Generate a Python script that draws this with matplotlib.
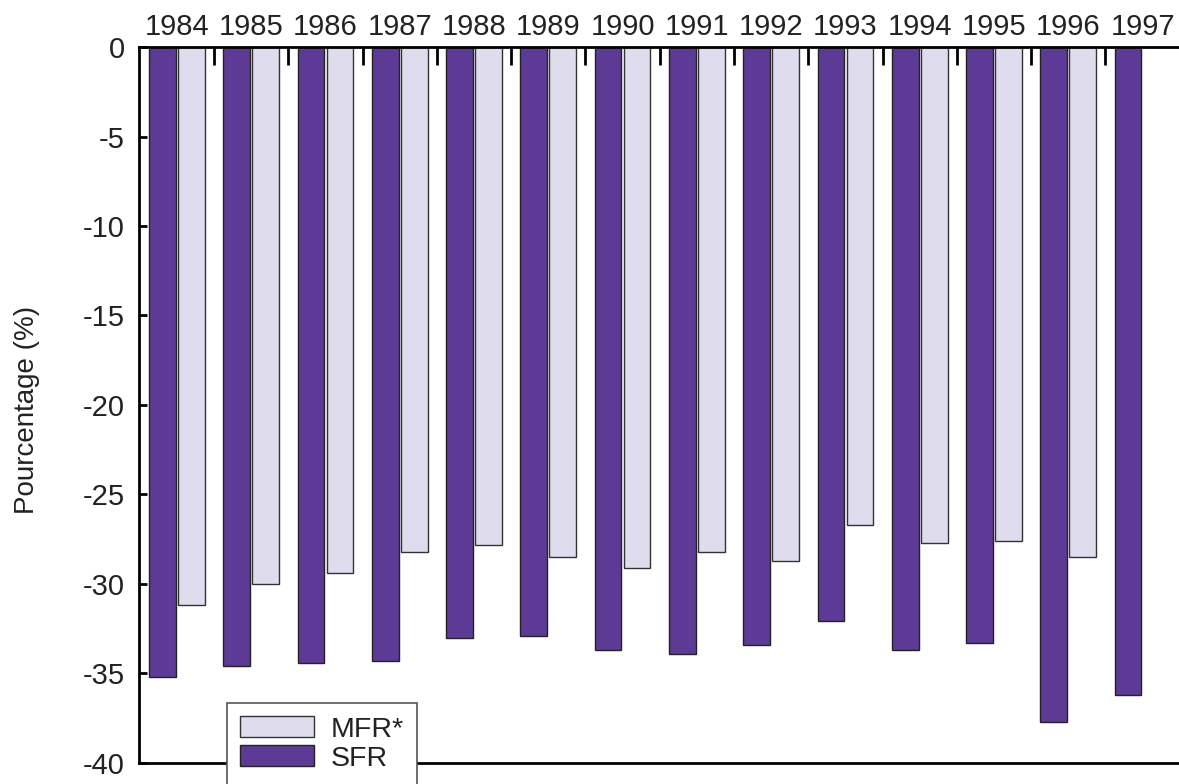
import numpy as np
import matplotlib
matplotlib.use("Agg")
import matplotlib.pyplot as plt

years = ["1984", "1985", "1986", "1987", "1988", "1989", "1990",
         "1991", "1992", "1993", "1994", "1995", "1996", "1997"]
sfr = [-35.2, -34.6, -34.4, -34.3, -33.0, -32.9, -33.7,
       -33.9, -33.4, -32.1, -33.7, -33.3, -37.7, -36.2]
mfr = [-31.2, -30.0, -29.4, -28.2, -27.8, -28.5, -29.1,
       -28.2, -28.7, -26.7, -27.7, -27.6, -28.5]
yticks = [0, -5, -10, -15, -20, -25, -30, -35, -40]

plt.rcParams["font.family"] = ["Liberation Sans", "DejaVu Sans"]
plt.rcParams["axes.unicode_minus"] = False

sfr_color = "#5c3a96"
mfr_color = "#dfdcee"

fig = plt.figure(figsize=(11.79, 7.84), dpi=100)
ax = fig.add_axes([0.1179, 0.027, 0.8821, 0.913])

x = np.arange(len(years))
w = 0.36
ax.bar(x[:len(mfr)] + 0.195, mfr, width=w, color=mfr_color,
       edgecolor="#333333", linewidth=1.0, label="MFR*", zorder=2)
ax.bar(x - 0.195, sfr, width=w, color=sfr_color,
       edgecolor="#222222", linewidth=1.0, label="SFR", zorder=2)

ax.set_xlim(-0.51, 13.49)
ax.set_ylim(-40, 0)

# year labels on top, ticks between groups
ax.xaxis.set_ticks_position("top")
ax.set_xticks(x)
ax.set_xticklabels(years, fontsize=21, color="#222222")
ax.tick_params(axis="x", which="major", length=0, pad=4)
ax.set_xticks(np.arange(0.5, 13.0, 1.0), minor=True)
ax.tick_params(axis="x", which="minor", direction="in", length=13, width=2)

ax.set_yticks(yticks)
ax.set_yticklabels([str(v) for v in yticks], fontsize=21, color="#222222")
ax.tick_params(axis="y", direction="in", length=6, width=2, pad=10)

ax.spines["right"].set_visible(False)
for s in ["top", "left", "bottom"]:
    ax.spines[s].set_linewidth(2)

fig.text(0.0229, 0.477, "Pourcentage (%)", fontsize=20, rotation=90,
         ha="center", va="center", color="#222222")

handles, labels = ax.get_legend_handles_labels()
leg = ax.legend(handles, labels, loc="upper left", bbox_to_anchor=(0.0846, 0.083),
                fontsize=20.5, frameon=True, fancybox=False, framealpha=1,
                edgecolor="#555555", handlelength=2.6, handleheight=0.75,
                borderpad=0.45, labelspacing=0.1, handletextpad=0.6,
                borderaxespad=0, labelcolor="#222222")
leg.get_frame().set_linewidth(1.2)
leg.set_zorder(5)

fig.savefig("out.png", dpi=100)
